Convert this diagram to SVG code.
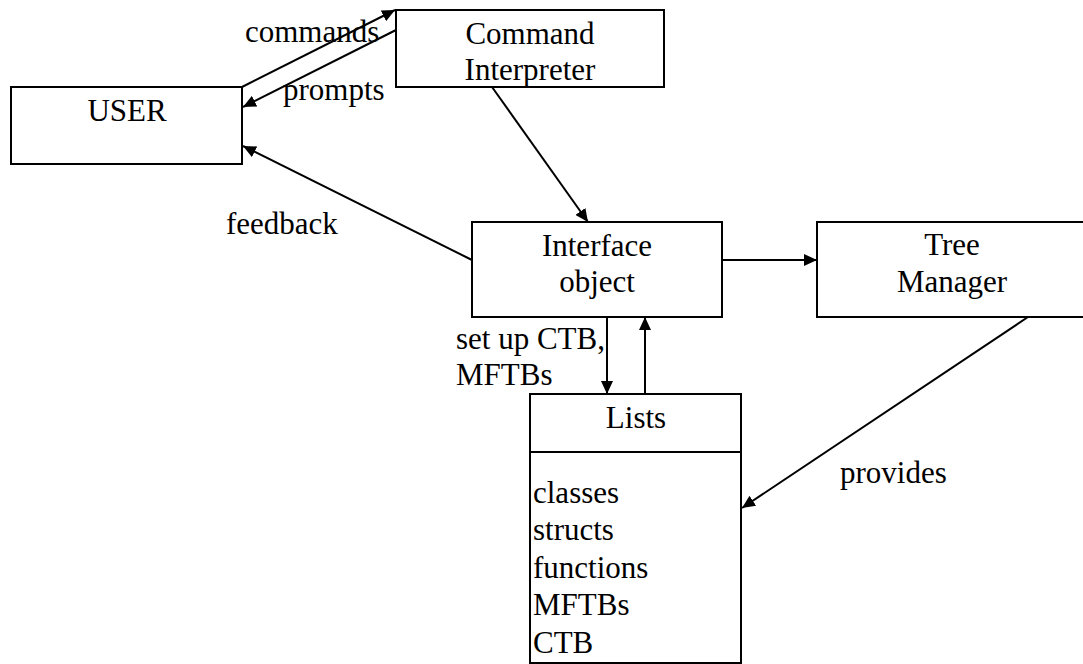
<svg xmlns="http://www.w3.org/2000/svg" width="1083" height="664" viewBox="0 0 1083 664">
  <style>
    .box { fill: #fff; stroke: #000; stroke-width: 2; }
    .edge { fill: none; stroke: #000; stroke-width: 2; }
    text { font-family: 'Liberation Serif', 'Times New Roman', Times, serif; font-size: 31px; fill: #000; }
    .c { text-anchor: middle; }
  </style>
  <defs>
    <marker id="arrow" markerUnits="userSpaceOnUse" markerWidth="14" markerHeight="12" refX="13" refY="6" orient="auto">
      <path d="M0,0 L13,6 L0,12 z" fill="#000"/>
    </marker>
  </defs>
  <rect width="1083" height="664" fill="#fff"/>

  <g id="user">
    <rect class="box" x="11" y="87" width="231" height="77"/>
    <text class="c" x="127" y="121">USER</text>
  </g>

  <g id="command-interpreter">
    <rect class="box" x="396" y="10" width="268" height="77"/>
    <text class="c" x="530" y="44">Command</text>
    <text class="c" x="530" y="80">Interpreter</text>
  </g>

  <g id="interface-object">
    <rect class="box" x="472" y="222" width="250" height="95"/>
    <text class="c" x="597" y="256">Interface</text>
    <text class="c" x="597" y="292">object</text>
  </g>

  <g id="tree-manager">
    <rect class="box" x="817" y="222" width="272" height="95"/>
    <text class="c" x="952" y="255">Tree</text>
    <text class="c" x="952" y="292">Manager</text>
  </g>

  <g id="lists">
    <rect class="box" x="530" y="394" width="211" height="269"/>
    <line class="edge" x1="530" y1="452" x2="741" y2="452"/>
    <text class="c" x="636" y="428">Lists</text>
    <text x="533" y="503">classes</text>
    <text x="533" y="540">structs</text>
    <text x="533" y="578">functions</text>
    <text x="533" y="615">MFTBs</text>
    <text x="533" y="653">CTB</text>
  </g>

  <g id="connectors">
    <line class="edge" x1="242" y1="87" x2="395" y2="10" marker-end="url(#arrow)"/>
    <line class="edge" x1="396" y1="30" x2="243" y2="107" marker-end="url(#arrow)"/>
    <line class="edge" x1="472" y1="260" x2="243" y2="146" marker-end="url(#arrow)"/>
    <line class="edge" x1="492" y1="87" x2="588" y2="222" marker-end="url(#arrow)"/>
    <line class="edge" x1="722" y1="260" x2="817" y2="260" marker-end="url(#arrow)"/>
    <line class="edge" x1="607" y1="317" x2="607" y2="394" marker-end="url(#arrow)"/>
    <line class="edge" x1="645" y1="394" x2="645" y2="317" marker-end="url(#arrow)"/>
    <line class="edge" x1="1028" y1="317" x2="742" y2="508" marker-end="url(#arrow)"/>
  </g>

  <g id="labels">
    <text x="245" y="42">commands</text>
    <text x="283" y="100">prompts</text>
    <text x="226" y="234">feedback</text>
    <text x="456" y="349">set up CTB,</text>
    <text x="456" y="385">MFTBs</text>
    <text x="840" y="483">provides</text>
  </g>
</svg>
